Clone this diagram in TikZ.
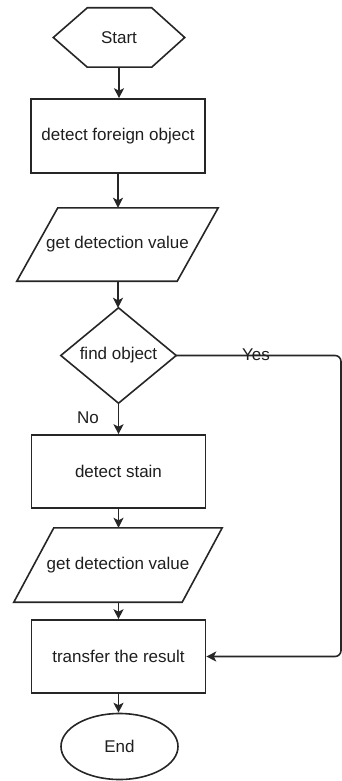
\documentclass[tikz,border=0pt]{standalone}
\usepackage{fontspec}
\setmainfont{Liberation Sans}
\usetikzlibrary{arrows.meta,shapes.geometric}
\definecolor{lc}{HTML}{262626}
\definecolor{tc}{HTML}{1E1E1E}
\begin{document}
\begin{tikzpicture}[x=1pt,y=-1pt,
  font=\fontsize{17}{20}\selectfont,
  every node/.style={text=tc, inner sep=0pt},
  ln/.style={draw=lc, line width=1.6pt, line join=miter},
  arr/.style={ln, -{Stealth[length=10pt,width=10pt,inset=2.5pt]}},
  bx/.style={rectangle, minimum width=#1},
  procbox/.style={ln, rectangle, minimum width=174pt, minimum height=73pt},
]
\useasboundingbox (0,0) rectangle (342,781);
% start hexagon
\node[bx=131pt, minimum height=59pt] (start) at (119,37.5) {Start};
\draw[ln] (start.west) -- ([xshift=34pt]start.north west) -- ([xshift=-33pt]start.north east)
  -- (start.east) -- ([xshift=-33pt]start.south east) -- ([xshift=34pt]start.south west) -- cycle;
% process 1
\node[procbox, minimum height=74pt] (r1) at (118,136) {detect foreign object};
% io 1
\node[bx=201pt, minimum height=73pt] (p1) at (117.5,244.5) {get detection value};
\draw[ln] ([xshift=41pt]p1.north west) -- (p1.north east) -- ([xshift=-41pt]p1.south east)
  -- (p1.south west) -- cycle;
% decision
\node[bx=115pt, minimum height=95pt] (d) at (118.5,355.5) {find object};
\draw[ln] (d.north) -- (d.east) -- (d.south) -- (d.west) -- cycle;
% process 2
\node[procbox] (r2) at (118.5,471.5) {detect stain};
% io 2
\node[bx=208pt, minimum height=74pt] (p2) at (118,565) {get detection value};
\draw[ln] ([xshift=40pt]p2.north west) -- (p2.north east) -- ([xshift=-40pt]p2.south east)
  -- (p2.south west) -- cycle;
% process 3
\node[procbox] (r3) at (118.5,656.5) {transfer the result};
% end
\node[ln, ellipse, minimum width=117pt, minimum height=66pt] (end) at (119.5,746.5) {End};
% connectors
\draw[arr] (start.south) -- (start.south |- r1.north);
\draw[arr] (r1.south) -- (r1.south |- p1.north);
\draw[arr] (p1.south -| r1.south) -- (r1.south |- d.north);
\draw[arr] (d.south) -- (d.south |- r2.north);
\draw[arr] (r2.south) -- (r2.south |- p2.north);
\draw[arr] (r2.south |- p2.south) -- (r2.south |- r3.north);
\draw[arr] (r3.south) -- (r3.south |- end.north);
\coordinate (c1) at (341,355.5);
\coordinate (c2) at (341,656.5);
\draw[arr, rounded corners=6pt] (d.east) -- (c1) -- (c2) -- (r3.east);
\node (yes) at (256,355) {Yes};
\node (no) at (88,418) {No};
\end{tikzpicture}
\end{document}
